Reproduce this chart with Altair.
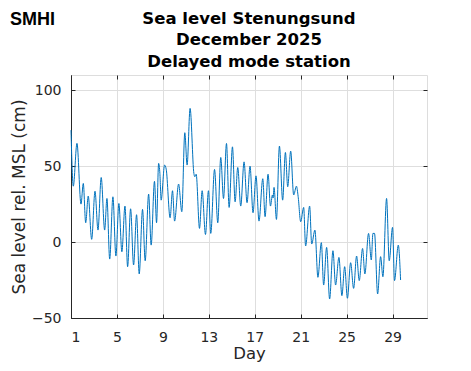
import altair as alt
import pandas as pd

# Sea level (cm rel. MSL) turning points, December 2025
days = [1.00, 1.20, 1.52, 1.87, 2.07, 2.28, 2.50, 2.80, 3.09, 3.35, 3.63, 3.93, 4.13, 4.37, 4.65, 4.91, 5.17, 5.43, 5.70,
        5.93, 6.19, 6.45, 6.71, 6.94, 7.23, 7.46, 7.76, 7.98, 8.27, 8.45, 8.63, 8.74, 8.85, 9.15, 9.29, 9.63, 9.84, 10.02, 10.37,
        10.65, 10.91, 11.11, 11.37, 11.70, 11.78, 11.90, 12.19, 12.42, 12.71, 12.97, 13.17, 13.50, 13.78, 14.04, 14.28, 14.54, 14.77, 15.06, 15.29,
        15.52, 15.78, 16.07, 16.33, 16.59, 16.85, 17.11, 17.37, 17.70, 17.90, 18.16, 18.37, 18.54, 18.60, 18.68, 18.89, 19.15, 19.43, 19.67, 19.87, 20.13,
        20.39, 20.63, 20.78, 21.00, 21.26, 21.43, 21.78, 21.96, 22.24, 22.50, 22.80, 23.00, 23.26, 23.52, 23.81, 24.04, 24.33, 24.59, 24.83, 25.07,
        25.35, 25.61, 25.87, 26.10, 26.39, 26.59, 26.91, 27.15, 27.29, 27.43, 27.70, 27.96, 28.16, 28.48, 28.71, 29.00, 29.17, 29.50, 29.70]
levels = [73.7, 36.8, 65, 25, 38.6, 12.7, 30.3, 1.8, 33.5, 7.9, 42.5, 7.9, 28.7, -11.2, 29.8, -9.2, 25.4, -6.4, 23.7,
          -16.2, 21.9, -15.1, 18, -21, 21.5, -12.3, 31.6, -2, 40, 12.7, 51.8, 45.2, 27.6, 50.7, 48, 16, 33.8, 13.8, 38.2,
          20, 72, 50.7, 88, 45.2, 43, 44.7, 9, 33.8, 5, 33.8, 5.7, 47.8, 12.7, 55.7, 28.7, 64.9, 22.8, 62.7, 26.5,
          49.1, 23.7, 52.8, 25.9, 50, 19.3, 43.6, 13.8, 41.7, 16.7, 44.7, 23.7, 31, 29, 36, 14.9, 63.2, 27.6, 59, 36.4, 59.9,
          31, 36.8, 30, 13.4, 22.8, -2.6, 23.7, -1.3, 7.9, -23.2, -0.4, -28.3, -3.5, -37.5, -5.7, -28.3, -10.1, -35.3, -16.2, -37,
          -13.6, -30.5, -9.2, -25.4, -4.2, -21, 5.7, -11.8, 5.7, 5.7, -34.2, -9.6, -22.8, 28.7, -12.3, 9.7, -25.4, -2, -25]
x_ticks = [1, 5, 9, 13, 17, 21, 25, 29]
y_ticks = [-50, 0, 50, 100]
title_lines = ["Sea level Stenungsund", "December 2025", "Delayed mode station"]
logo_text = ["SMHI"]

df = pd.DataFrame({"day": days, "level": levels})

W, H = 356, 243
FONT = "DejaVu Sans"
AX = "#262626"
GRID = "#dedede"

xs = alt.Scale(domain=[1, 32], nice=False, zero=False)
ys = alt.Scale(domain=[-50, 110], nice=False, zero=False)

base = alt.Chart(df)

main = base.mark_line(color="#0072BD", strokeWidth=1, interpolate="monotone").encode(
    x=alt.X("day:Q", scale=xs, axis=alt.Axis(
        orient="bottom", values=x_ticks, title="Day", grid=True, gridColor=GRID,
        ticks=False, tickSize=0, labelPadding=12, labelFontSize=14, labelFont=FONT,
        labelColor=AX, domainColor=AX, titleFont=FONT, titleFontSize=16.5,
        titleFontWeight="normal", titleColor=AX, titlePadding=1)),
    y=alt.Y("level:Q", scale=ys, axis=alt.Axis(
        orient="left", values=y_ticks, title="Sea level rel. MSL (cm)", grid=True, gridColor=GRID,
        ticks=False, tickSize=0, labelPadding=10, labelFontSize=14, labelFont=FONT,
        labelColor=AX, domainColor=AX, titleFont=FONT, titleFontSize=17,
        titleFontWeight="normal", titleColor=AX, titlePadding=3)),
)

tick_common = dict(labels=False, domain=False, grid=False, ticks=True, tickSize=4,
                   tickColor=AX, title=None)

ticks_a = base.mark_line(opacity=0).encode(
    x=alt.X("day:Q", scale=xs, axis=alt.Axis(orient="top", offset=-H, values=x_ticks, **tick_common)),
    y=alt.Y("level:Q", scale=ys, axis=alt.Axis(orient="right", offset=-W, values=y_ticks, **tick_common)),
)
ticks_b = base.mark_line(opacity=0).encode(
    x=alt.X("day:Q", scale=xs, axis=alt.Axis(orient="bottom", offset=-H, values=x_ticks, **tick_common)),
    y=alt.Y("level:Q", scale=ys, axis=alt.Axis(orient="left", offset=-W, values=y_ticks, **tick_common)),
)

logo = alt.Chart(pd.DataFrame({"logo": logo_text})).mark_text(
    font="Liberation Sans", fontWeight="bold", fontSize=18, align="left",
    baseline="alphabetic", color="black"
).encode(text="logo:N", x=alt.value(-61), y=alt.value(-50))

title = alt.Chart(pd.DataFrame({"k": [0]})).mark_text(
    font=FONT, fontWeight="bold", fontSize=16.5, align="center",
    baseline="alphabetic", lineHeight=21.5, color="black"
).encode(text=alt.value(title_lines), x=alt.value(W / 2), y=alt.value(-51.5))

chart = alt.layer(main, ticks_a, ticks_b, logo, title).properties(
    width=W, height=H,
    autosize=alt.AutoSizeParams(type="none"),
    padding={"left": 63, "top": 67, "right": 36, "bottom": 45},
).configure_view(stroke=AX, strokeWidth=1).configure(background="white")

chart.save("out.html", embed_options={"renderer": "svg", "actions": False})
